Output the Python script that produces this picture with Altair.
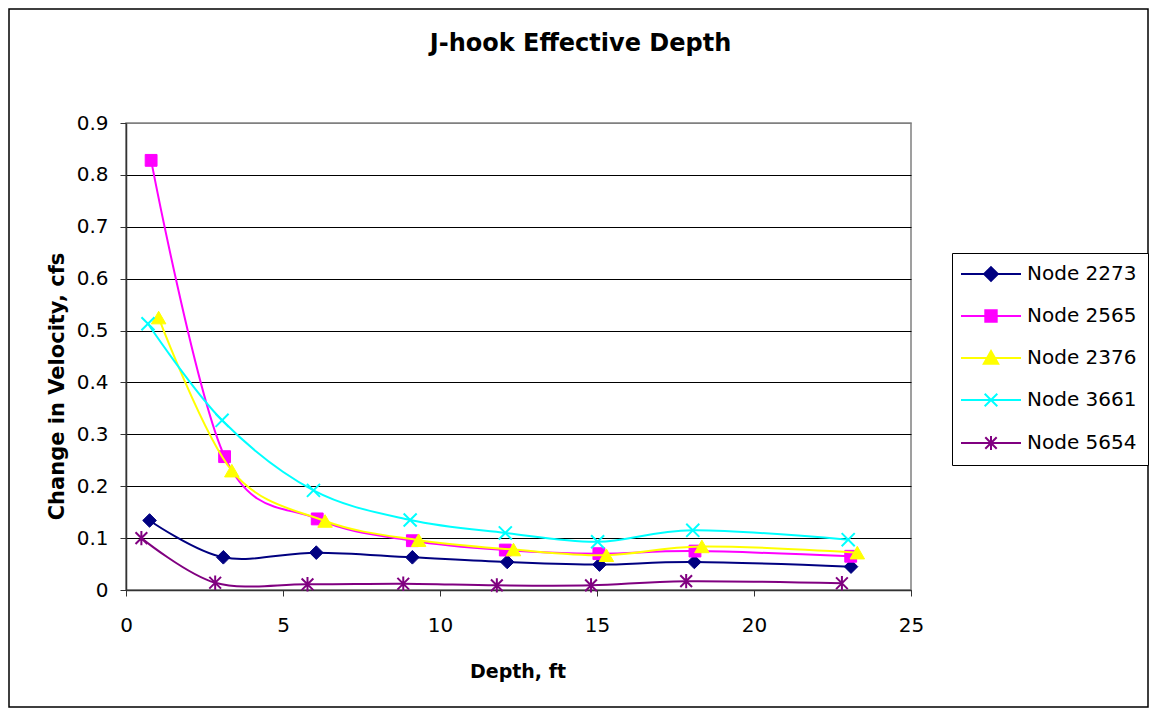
import altair as alt
import pandas as pd

# ---- data ----
series_names = ["Node 2273", "Node 2565", "Node 2376", "Node 3661", "Node 5654"]
series_colors = ["#000080", "#FF00FF", "#FFFF00", "#00FFFF", "#800080"]

depth_2273 = [0.75, 3.10, 6.06, 9.12, 12.14, 15.08, 18.10, 23.09]
vel_2273 = [0.134, 0.063, 0.072, 0.063, 0.054, 0.049, 0.054, 0.045]

depth_2565 = [0.80, 3.14, 6.09, 9.12, 12.08, 15.06, 18.12, 23.08]
vel_2565 = [0.828, 0.257, 0.137, 0.095, 0.077, 0.070, 0.075, 0.065]

depth_2376 = [1.04, 3.37, 6.34, 9.32, 12.34, 15.30, 18.34, 23.29]
vel_2376 = [0.525, 0.230, 0.133, 0.096, 0.078, 0.067, 0.084, 0.072]

depth_3661 = [0.70, 3.06, 5.97, 9.05, 12.08, 15.02, 18.05, 23.00]
vel_3661 = [0.513, 0.327, 0.192, 0.135, 0.110, 0.093, 0.115, 0.097]

depth_5654 = [0.49, 2.84, 5.78, 8.83, 11.81, 14.81, 17.84, 22.80]
vel_5654 = [0.100, 0.014, 0.011, 0.012, 0.009, 0.009, 0.017, 0.013]

y_ticks = [0, 0.1, 0.2, 0.3, 0.4, 0.5, 0.6, 0.7, 0.8, 0.9]
x_ticks = [0, 5, 10, 15, 20, 25]

depths = [depth_2273, depth_2565, depth_2376, depth_3661, depth_5654]
vels = [vel_2273, vel_2565, vel_2376, vel_3661, vel_5654]

rows = []
for name, dd, vv in zip(series_names, depths, vels):
    for i, (d, v) in enumerate(zip(dd, vv)):
        rows.append({"series": name, "depth": d, "vel": v, "order": i})
df = pd.DataFrame(rows)

# ---- styling ----
FONT = "DejaVu Sans"
W, H = 785, 467
PAD = {"left": 118, "top": 115, "right": 238, "bottom": 118}

marker_shapes = [
    "M0,-1L1,0L0,1L-1,0Z",           # diamond
    "square",
    "triangle-up",
    "M-1,-1L1,1M-1,1L1,-1",           # x
    "M0,-1.1V1.1M-0.9,-0.9L0.9,0.9M-0.9,0.9L0.9,-0.9",  # asterisk
]
marker_sizes = [185, 140, 210, 170, 170]
marker_strokes = [1, 1, 1, 2, 2]

legend_paths = [
    "M-5,0H5M0,-1.15L1.15,0L0,1.15L-1.15,0Z",
    "M-5,0H5M-0.95,-0.95H0.95V0.95H-0.95Z",
    "M-5,0H5M0,-1.15L1.2,0.95H-1.2Z",
    "M-5,0H5M-1.05,-1.05L1.05,1.05M-1.05,1.05L1.05,-1.05",
    "M-5,0H5M0,-1.15V1.15M-0.95,-0.95L0.95,0.95M-0.95,0.95L0.95,-0.95",
]

x_enc = alt.X(
    "depth:Q",
    scale=alt.Scale(domain=[0, 25], nice=False, zero=False),
    axis=alt.Axis(
        values=x_ticks, format="d", grid=False, title="Depth, ft",
        titleFont=FONT, titleFontSize=19, titleFontWeight="bold",
        titleBaseline="alphabetic", titleY=87, titleX=W / 2 - 1,
        labelPadding=19, labelFlush=False,
    ),
)
y_enc = alt.Y(
    "vel:Q",
    scale=alt.Scale(domain=[0, 0.9], nice=False, zero=False),
    axis=alt.Axis(
        values=y_ticks,
        labelExpr="datum.value == 0 ? '0' : format(datum.value, '.1f')",
        grid=True,
        gridColor={"condition": {"test": "datum.value >= 0.89", "value": "#808080"}, "value": "black"},
        gridWidth=1,
        title="Change in Velocity, cfs",
        titleFont=FONT, titleFontSize=21, titleFontWeight="bold",
        titleAngle=270, titleBaseline="alphabetic", titleAlign="center",
        titleX=-63, titleY=263,
        labelPadding=12, labelFlush=False,
    ),
)

base = alt.Chart(df)

layers = []

# outer chart border
border = alt.Chart(alt.Data(values=[{}])).mark_rect(
    fill="transparent", stroke="black", strokeWidth=1.5
).encode(
    x=alt.value(-PAD["left"] + 1),
    x2=alt.value(W + PAD["right"] - 1),
    y=alt.value(-PAD["top"] + 1),
    y2=alt.value(H + PAD["bottom"] - 1),
)
layers.append(border)

for i, name in enumerate(series_names):
    sub = base.transform_filter(alt.datum.series == name)
    line = sub.mark_line(
        color=series_colors[i], strokeWidth=2, interpolate="cardinal", tension=0
    ).encode(x=x_enc, y=y_enc, order="order:Q")
    pts = sub.mark_point(
        shape=marker_shapes[i], filled=True, fill=series_colors[i],
        stroke=series_colors[i], strokeWidth=marker_strokes[i],
        size=marker_sizes[i], opacity=1,
    ).encode(x=x_enc, y=y_enc)
    layers.extend([line, pts])

legend = alt.Legend(
    title=None, orient="none", legendX=826, legendY=130,
    padding=11, rowPadding=21, labelOffset=26, symbolOffset=18,
    symbolSize=144, symbolStrokeWidth=2,
    strokeColor="black", fillColor="white", cornerRadius=0,
    labelFont=FONT, labelFontSize=20, labelColor="black", labelLimit=400,
)

legend_layer = base.transform_filter("false").mark_point(
    filled=True, size=144, strokeWidth=2, opacity=1
).encode(
    x=x_enc,
    y=y_enc,
    color=alt.Color("series:N", scale=alt.Scale(domain=series_names, range=series_colors), legend=legend),
    stroke=alt.Stroke("series:N", scale=alt.Scale(domain=series_names, range=series_colors), legend=legend),
    shape=alt.Shape("series:N", scale=alt.Scale(domain=series_names, range=legend_paths), legend=legend),
)
layers.append(legend_layer)

title = alt.Chart(alt.Data(values=[{}])).mark_text(
    text="J-hook Effective Depth", font=FONT, fontWeight="bold", fontSize=24,
    align="center", baseline="alphabetic", color="black",
).encode(x=alt.value(454.5), y=alt.value(-72.3))
layers.append(title)

chart = alt.layer(*layers).properties(
    width=W, height=H,
    autosize=alt.AutoSizeParams(type="none"),
    padding=PAD,
    background="white",
).configure_view(
    stroke="#808080", strokeWidth=1.5
).configure_axis(
    labelFont=FONT, labelFontSize=20, labelColor="black",
    titleColor="black", domainColor="#333333", domainWidth=1.5,
    tickColor="#333333", tickSize=6, tickWidth=1,
)

chart.save("out.html", embed_options={"renderer": "svg", "actions": False})
